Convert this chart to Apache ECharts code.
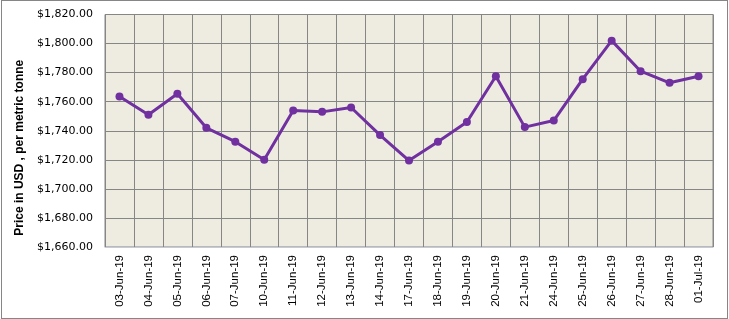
<!DOCTYPE html>
<html>
<head>
<meta charset="utf-8">
<script src="https://cdn.jsdelivr.net/npm/echarts@6/dist/echarts.min.js"></script>
<style>
  html, body { margin: 0; padding: 0; background: #fff; }
  .frame {
    position: absolute; left: 1px; top: 0; width: 727px; height: 319px;
    box-sizing: border-box; border: 1px solid #868686;
  }
  #chart { position: absolute; left: 0; top: 0; width: 729px; height: 319px; }
</style>
</head>
<body>
<div class="frame"></div>
<div id="chart"></div>
<script>
const dates = ['03-Jun-19', '04-Jun-19', '05-Jun-19', '06-Jun-19', '07-Jun-19', '10-Jun-19', '11-Jun-19',
  '12-Jun-19', '13-Jun-19', '14-Jun-19', '17-Jun-19', '18-Jun-19', '19-Jun-19', '20-Jun-19', '21-Jun-19',
  '24-Jun-19', '25-Jun-19', '26-Jun-19', '27-Jun-19', '28-Jun-19', '01-Jul-19']
const prices = [1763.5, 1751, 1765.5, 1742, 1732.5, 1720, 1754, 1753, 1756, 1737, 1719.5, 1732.5,
  1746, 1777.5, 1742.5, 1747, 1775.5, 1802, 1781, 1773, 1777.5]
const yMin = 1660
const yMax = 1820
const yStep = 20

function fmtUsd(v) {
  return '$' + v.toLocaleString('en-US', { minimumFractionDigits: 2, maximumFractionDigits: 2 })
}

const chart = echarts.init(document.getElementById('chart'))

chart.setOption({
  animation: false,
  grid: {
    left: 105,
    right: 16,
    top: 14.5,
    bottom: 72,
    show: true,
    backgroundColor: '#EEECE1',
    borderColor: '#868686',
    borderWidth: 1,
  },
  xAxis: {
    type: 'category',
    data: dates,
    boundaryGap: true,
    axisLine: { show: true, lineStyle: { color: '#C3CAD9', width: 1 } },
    axisTick: { show: false },
    axisLabel: {
      rotate: 90,
      interval: 0,
      margin: 8,
      color: '#000',
      fontFamily: 'Liberation Sans',
      fontSize: 11.5,
    },
    splitLine: { show: true, interval: 0, lineStyle: { color: '#868686', width: 1 } },
  },
  yAxis: {
    type: 'value',
    min: yMin,
    max: yMax,
    interval: yStep,
    name: 'Price in USD , per metric tonne',
    nameLocation: 'middle',
    nameGap: 76,
    nameTextStyle: {
      color: '#000',
      fontFamily: 'Liberation Sans',
      fontSize: 12,
      fontWeight: 'bold',
      padding: [0, 34, 0, 0],
    },
    axisLine: { show: false },
    axisTick: { show: false },
    axisLabel: {
      color: '#000',
      fontFamily: 'DejaVu Sans',
      fontSize: 11,
      margin: 12,
      formatter: fmtUsd,
    },
    splitLine: { show: true, lineStyle: { color: '#868686', width: 1 } },
  },
  series: [
    {
      type: 'line',
      data: prices,
      symbol: 'circle',
      symbolSize: 8,
      lineStyle: { color: '#7030A0', width: 3 },
      itemStyle: { color: '#7030A0' },
    },
  ],
})
</script>
</body>
</html>
